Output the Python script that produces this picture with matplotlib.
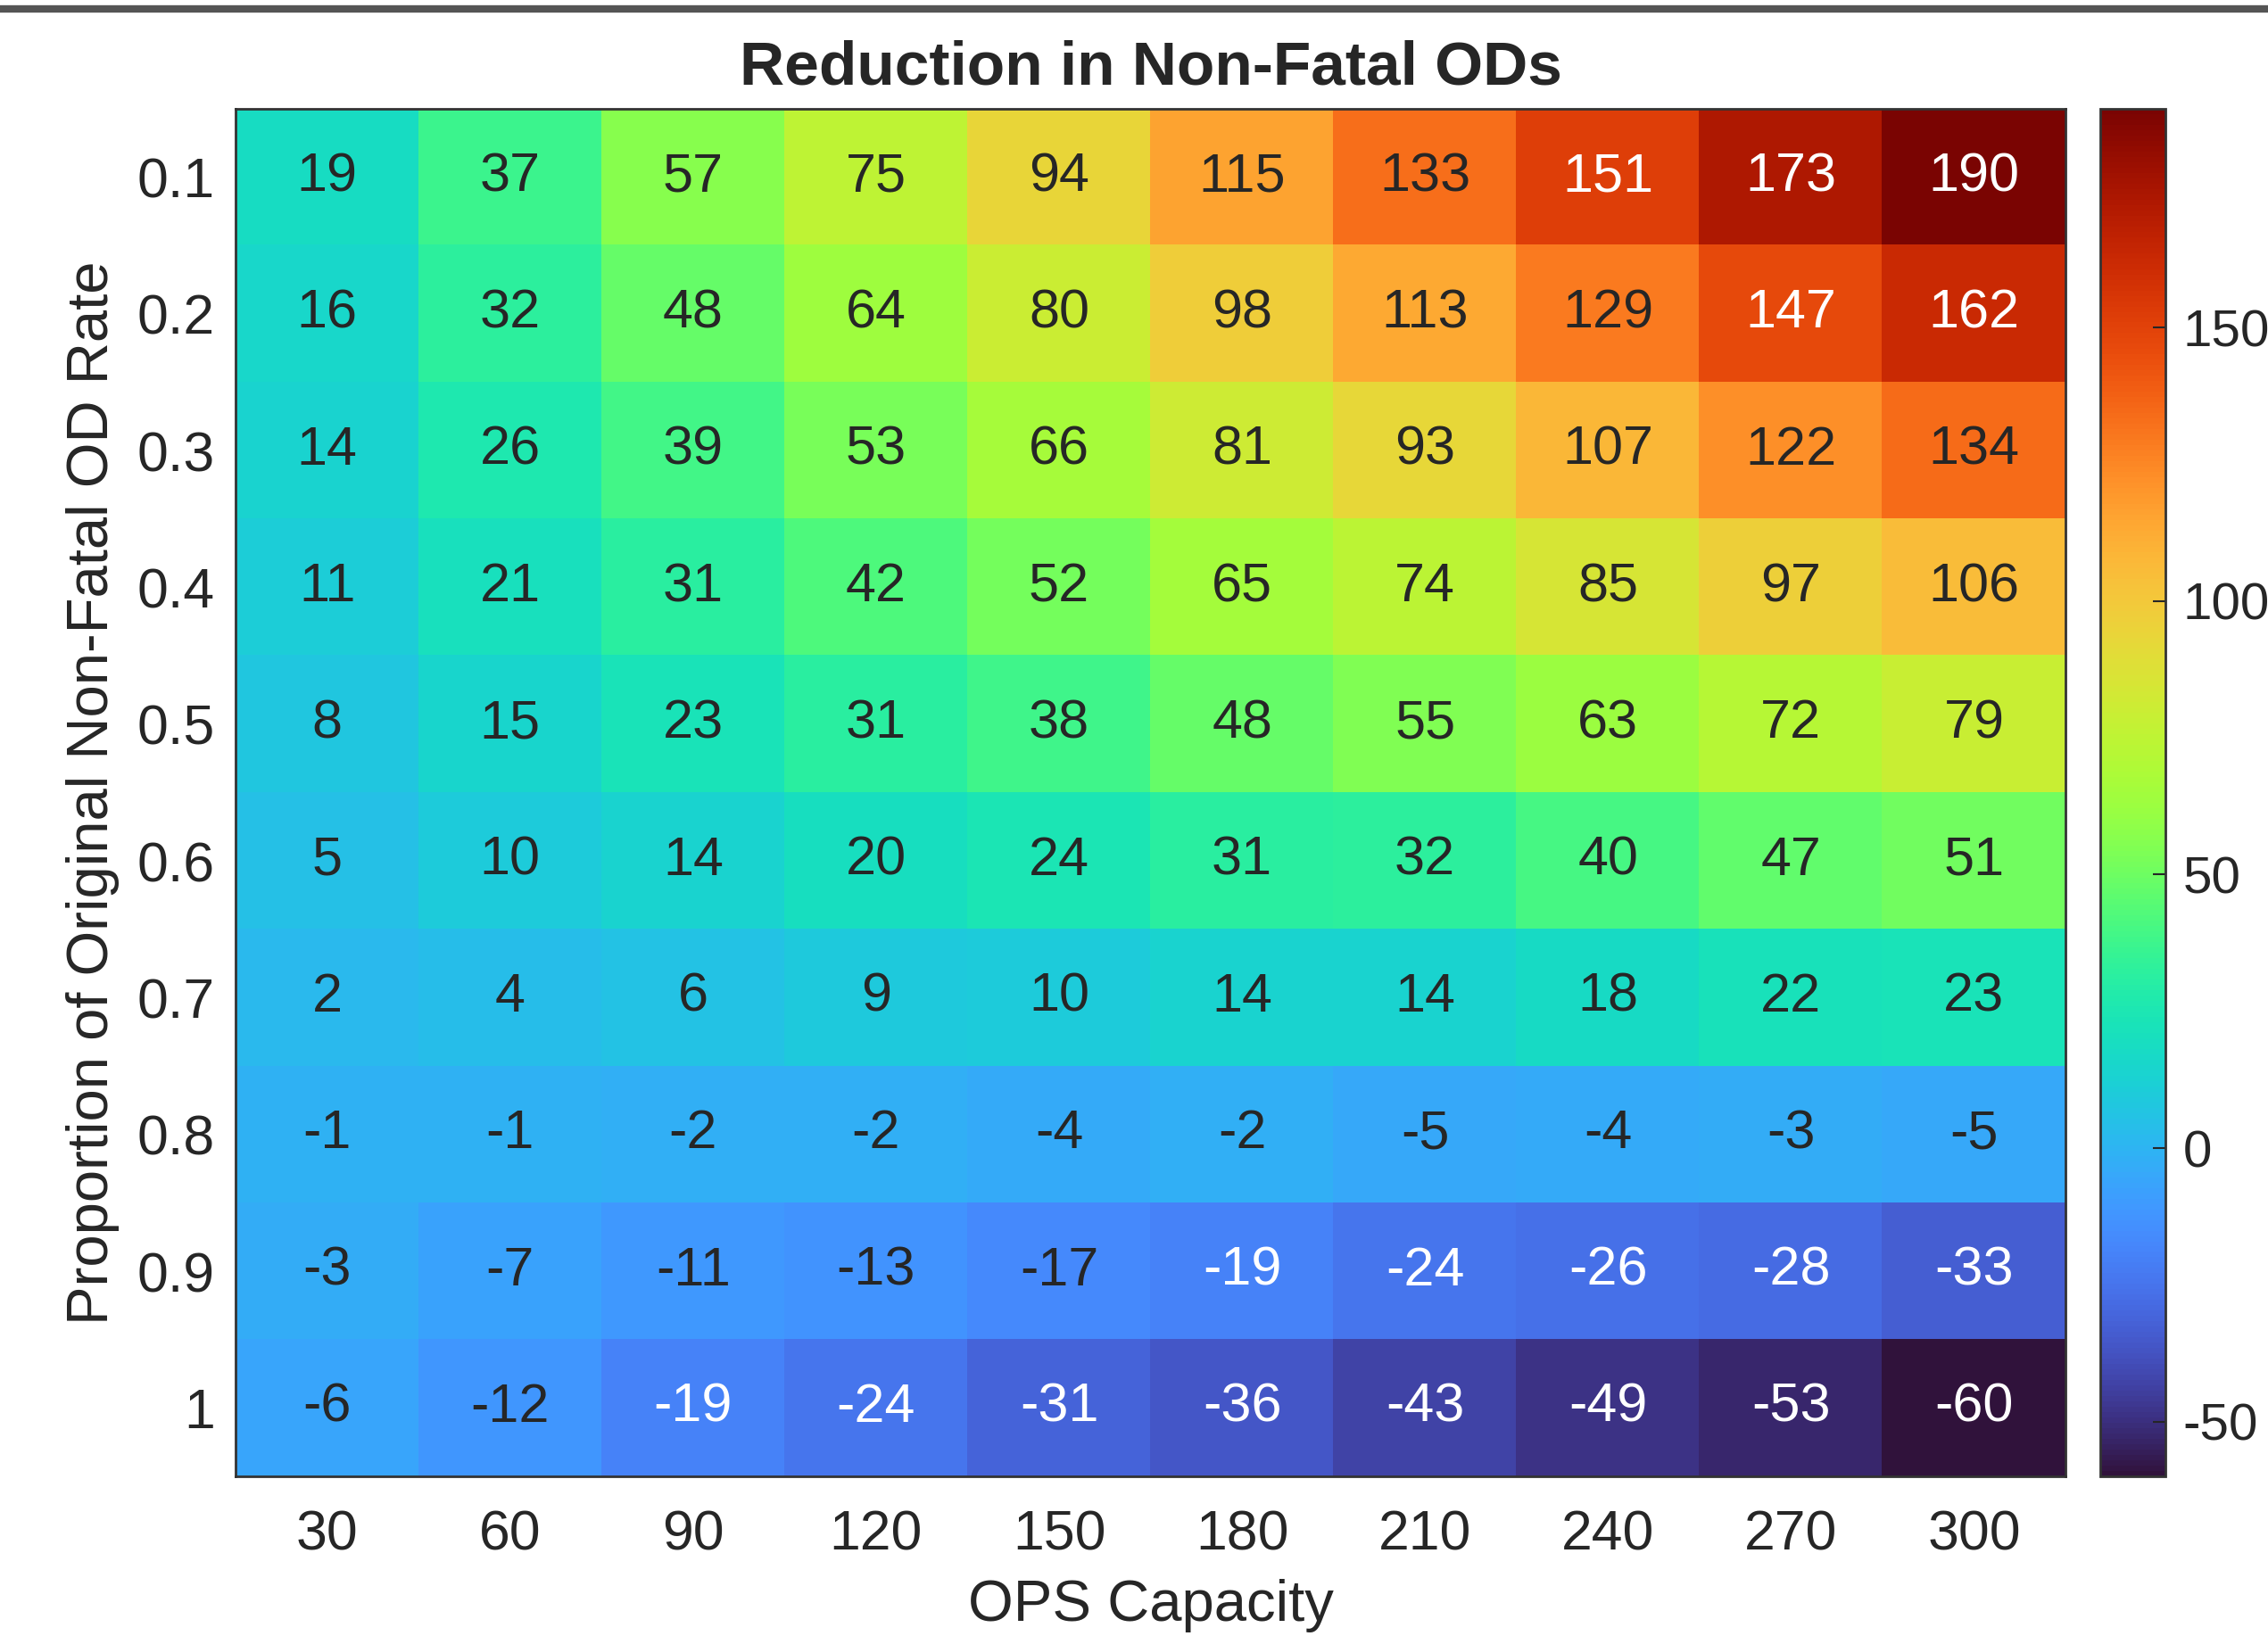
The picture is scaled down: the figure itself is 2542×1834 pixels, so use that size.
import numpy as np
import matplotlib
matplotlib.use("Agg")
import matplotlib.pyplot as plt
from matplotlib.lines import Line2D

plt.rcParams['font.family'] = ['Liberation Sans', 'DejaVu Sans']

ops_capacity = ["30", "60", "90", "120", "150", "180", "210", "240", "270", "300"]
od_rate = ["0.1", "0.2", "0.3", "0.4", "0.5", "0.6", "0.7", "0.8", "0.9", "1"]

row_01 = [19, 37, 57, 75, 94, 115, 133, 151, 173, 190]
row_02 = [16, 32, 48, 64, 80, 98, 113, 129, 147, 162]
row_03 = [14, 26, 39, 53, 66, 81, 93, 107, 122, 134]
row_04 = [11, 21, 31, 42, 52, 65, 74, 85, 97, 106]
row_05 = [8, 15, 23, 31, 38, 48, 55, 63, 72, 79]
row_06 = [5, 10, 14, 20, 24, 31, 32, 40, 47, 51]
row_07 = [2, 4, 6, 9, 10, 14, 14, 18, 22, 23]
row_08 = [-1, -1, -2, -2, -4, -2, -5, -4, -3, -5]
row_09 = [-3, -7, -11, -13, -17, -19, -24, -26, -28, -33]
row_10 = [-6, -12, -19, -24, -31, -36, -43, -49, -53, -60]

data = np.array([row_01, row_02, row_03, row_04, row_05,
                 row_06, row_07, row_08, row_09, row_10])

vmin, vmax = -60, 190
cmap = plt.get_cmap('turbo')
txt_col = '#262626'


def luminance(v):
    r, g, b, _ = cmap((v - vmin) / (vmax - vmin))
    return 0.299 * r + 0.587 * g + 0.114 * b


# matlab switches to white labels somewhere between -17 and -19
lum_cut = luminance(-18)

fig = plt.figure(figsize=(25.42, 18.34), dpi=100)
ax = fig.add_axes([0.1039, 0.0976, 0.8068, 0.8359])
im = ax.imshow(data, cmap=cmap, vmin=vmin, vmax=vmax, aspect='auto',
               interpolation='nearest')

for i in range(data.shape[0]):
    for j in range(data.shape[1]):
        c = 'white' if luminance(data[i, j]) < lum_cut else txt_col
        ax.text(j, i, str(data[i, j]), ha='center', va='center',
                fontsize=44, color=c)

ax.set_xticks(range(len(ops_capacity)))
ax.set_xticklabels(ops_capacity)
ax.set_yticks(range(len(od_rate)))
ax.set_yticklabels(od_rate)
ax.tick_params(length=0, labelsize=45, colors=txt_col)
ax.tick_params(axis='x', pad=26)
ax.tick_params(axis='y', pad=17)
ax.set_xlabel("OPS Capacity", fontsize=47, color=txt_col, labelpad=14)
ax.set_ylabel("Proportion of Original Non-Fatal OD Rate", fontsize=47,
              color=txt_col, labelpad=14)
ax.set_title("Reduction in Non-Fatal ODs", fontsize=50, fontweight='bold',
             color='#262626', pad=20)
for s in ax.spines.values():
    s.set_color('#333333')
    s.set_linewidth(2)

cax = fig.add_axes([0.926, 0.0976, 0.0287, 0.8359])
cb = fig.colorbar(im, cax=cax, ticks=[-50, 0, 50, 100, 150])
cb.ax.set_yticklabels(["-50", "0", "50", "100", "150"])
cb.ax.tick_params(direction='in', length=10, width=1.5, labelsize=42,
                  colors=txt_col, pad=14)
cb.outline.set_edgecolor('#333333')
cb.outline.set_linewidth(2)

# grey rule along the top of the page
fig.add_artist(Line2D([0, 1], [0.9945, 0.9945], transform=fig.transFigure,
                      color='#555555', linewidth=6))

fig.savefig("out.png", dpi=100, facecolor='white')
